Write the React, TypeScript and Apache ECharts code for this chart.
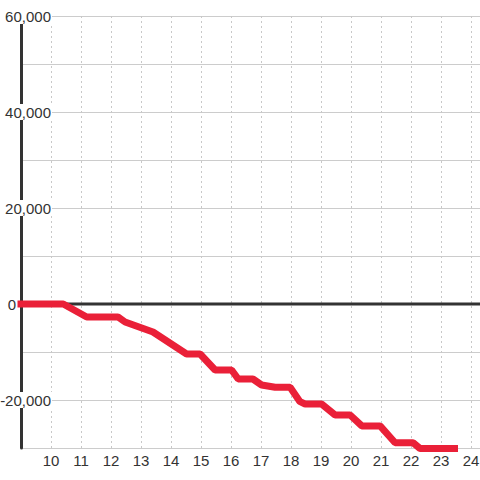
import React, { useEffect, useRef } from "react";
import * as echarts from "echarts";

const times = [9, 10.41, 11.19, 12.23, 12.47, 13.4, 14.52, 14.97, 15.47, 16.02, 16.24, 16.73, 17.02, 17.47, 17.97, 18.3, 18.47, 19.02, 19.47, 19.97, 20.36, 20.97, 21.47, 22.07, 22.3, 23.45];
const values = [0, 0, -2700, -2700, -3750, -5830, -10420, -10420, -13750, -13750, -15625, -15625, -16875, -17350, -17350, -20350, -20830, -20830, -23125, -23125, -25400, -25400, -28900, -28900, -30100, -30100];
const yLabelValues = [60000, 40000, 20000, 0, -20000];
const xLabelValues = [10, 11, 12, 13, 14, 15, 16, 17, 18, 19, 20, 21, 22, 23, 24];
const xMin = 9;
const xMax = 24.3;
const yMin = -30000;
const yMax = 60000;

const FONT = "'Liberation Sans', Arial, sans-serif";

export default function App() {
  const ref = useRef<HTMLDivElement>(null);
  useEffect(() => {
    if (!ref.current) return;
    const chart = echarts.init(ref.current, null, { renderer: "svg" });
    chart.setOption({
      animation: false,
      backgroundColor: "#fff",
      grid: { left: 21, right: 0, top: 16, bottom: 32, containLabel: false, outerBoundsMode: "none" },
      xAxis: {
        type: "value",
        min: xMin,
        max: xMax,
        interval: 1,
        axisLine: { show: false },
        axisTick: { show: false },
        splitLine: { show: true, lineStyle: { color: "#c8c8c8", width: 1, type: [2, 3] } },
        axisLabel: {
          margin: 5,
          color: "#333",
          fontSize: 15,
          fontFamily: FONT,
          formatter: (v: number) => (xLabelValues.includes(v) ? String(v) : ""),
        },
      },
      yAxis: {
        type: "value",
        min: yMin,
        max: yMax,
        interval: 10000,
        axisLine: { show: true, lineStyle: { color: "#333", width: 3 } },
        axisTick: { show: false },
        splitLine: { show: true, lineStyle: { color: "#cccccc", width: 1 } },
        axisLabel: {
          margin: -31,
          color: "#333",
          fontSize: 15,
          fontFamily: FONT,
          formatter: (v: number) => {
            if (!yLabelValues.includes(v)) return "";
            if (v === 0) return "{z|0}";
            return "{a|" + v.toLocaleString("en-US") + "}";
          },
          rich: {
            a: { backgroundColor: "#fff", padding: [1, 1, 0, 1], fontSize: 15, color: "#333", fontFamily: FONT, lineHeight: 15 },
            z: { padding: [0, 36, 0, 0], fontSize: 15, color: "#333", fontFamily: FONT, lineHeight: 15 },
          },
        },
      },
      series: [
        {
          type: "line",
          data: [[xMin, 0], [xMax, 0]],
          symbol: "none",
          silent: true,
          lineStyle: { color: "#333", width: 3 },
        },
        {
          type: "line",
          data: times.map((t, i) => [t, values[i]]),
          symbol: "none",
          clip: false,
          lineStyle: { color: "#ea2038", width: 7, cap: "square" },
        },
      ],
    });
    return () => chart.dispose();
  }, []);
  return <div ref={ref} style={{ position: "absolute", left: 0, top: 0, width: 480, height: 480 }} />;
}
